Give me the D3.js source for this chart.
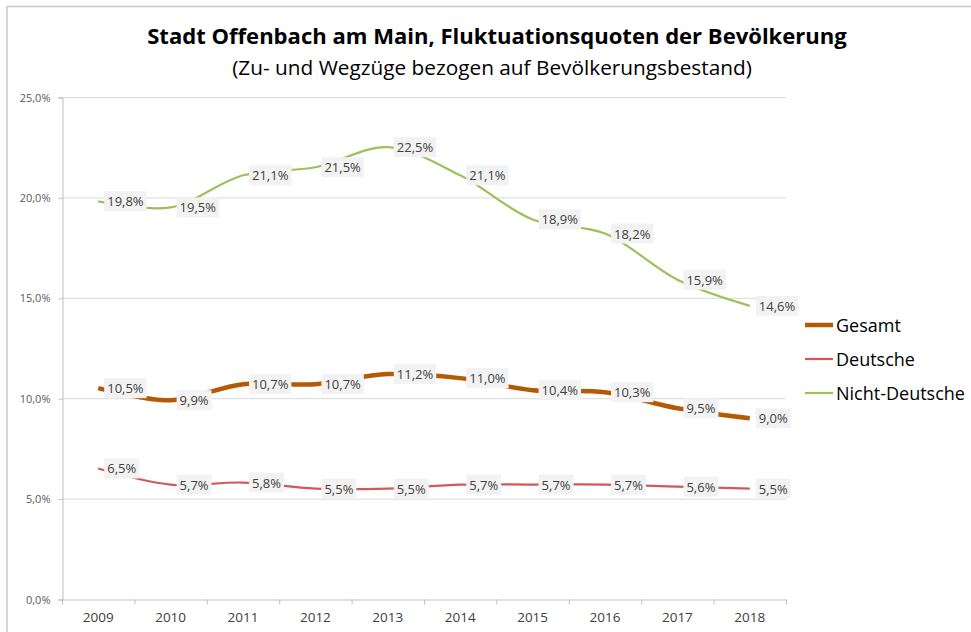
<!DOCTYPE html>
<html>
<head>
<meta charset="utf-8">
<script src="https://d3js.org/d3.v7.min.js"></script>
<style>
  body { margin: 0; background: #fff; }
  svg { display: block; font-family: "Open Sans", "Noto Sans", sans-serif; }
</style>
</head>
<body>
<div id="chart"></div>
<script>
// data
var years = ["2009", "2010", "2011", "2012", "2013", "2014", "2015", "2016", "2017", "2018"];
var gesamt = [10.5, 9.9, 10.7, 10.7, 11.2, 11.0, 10.4, 10.3, 9.5, 9.0];
var deutsche = [6.5, 5.7, 5.8, 5.5, 5.5, 5.7, 5.7, 5.7, 5.6, 5.5];
var nichtDeutsche = [19.8, 19.5, 21.1, 21.5, 22.5, 21.1, 18.9, 18.2, 15.9, 14.6];
var yTicks = [0, 5, 10, 15, 20, 25];

var series = [
  {name: "Gesamt", values: gesamt, color: "#b35a06", width: 4.5},
  {name: "Deutsche", values: deutsche, color: "#d2585a", width: 2.2},
  {name: "Nicht-Deutsche", values: nichtDeutsche, color: "#9cc15a", width: 2.2}
];

var W = 971, H = 632;
// plot area (window.top is read-only, so no bare "top")
var plotL = 62, plotR = 786, plotT = 97, plotB = 599;

var de = d3.formatLocale({decimal: ",", thousands: ".", grouping: [3], currency: ["", " €"]});
var fmt = de.format(".1f");

var svg = d3.select("#chart").append("svg")
    .attr("width", W)
    .attr("height", H);

// outer frame (only top and left visible)
svg.append("line").attr("x1", 7).attr("x2", W).attr("y1", 6.5).attr("y2", 6.5)
    .attr("stroke", "#c8c8c8").attr("stroke-width", 1.5);
svg.append("line").attr("x1", 7).attr("x2", 7).attr("y1", 6).attr("y2", H)
    .attr("stroke", "#c8c8c8").attr("stroke-width", 1.5);

// fit text to a width
function fit(sel, w) {
  var fs = parseFloat(sel.style("font-size"));
  var len = sel.node().getComputedTextLength();
  sel.style("font-size", (fs * w / len) + "px");
}

var title = svg.append("text")
    .attr("x", 497).attr("y", 44)
    .attr("text-anchor", "middle")
    .style("font-size", "20px")
    .style("font-weight", "bold")
    .attr("fill", "#000")
    .text("Stadt Offenbach am Main, Fluktuationsquoten der Bevölkerung");
fit(title, 700);

var sub = svg.append("text")
    .attr("x", 492).attr("y", 75)
    .attr("text-anchor", "middle")
    .style("font-size", "17px")
    .attr("fill", "#000")
    .text("(Zu- und Wegzüge bezogen auf Bevölkerungsbestand)");
fit(sub, 520);

var x = d3.scaleBand().domain(years).range([plotL, plotR]);
var y = d3.scaleLinear().domain([0, 25]).range([plotB, plotT]);

// grid
svg.append("g").selectAll("line")
    .data(yTicks.filter(function(d) { return d > 0; }))
    .enter().append("line")
    .attr("x1", plotL).attr("x2", plotR)
    .attr("y1", function(d) { return y(d) + 0.5; })
    .attr("y2", function(d) { return y(d) + 0.5; })
    .attr("stroke", "#d9d9d9");

// y axis
var yAxis = svg.append("g")
    .attr("transform", "translate(" + (plotL + 0.5) + ",0.5)")
    .call(d3.axisLeft(y).tickValues(yTicks).tickSize(4).tickPadding(8)
      .tickFormat(function(d) { return fmt(d) + "%"; }));
yAxis.select(".domain").attr("stroke", "#bfbfbf");
yAxis.selectAll(".tick line").attr("stroke", "#bfbfbf");
yAxis.selectAll("text").attr("fill", "#595959")
    .style("font-size", "11px").style("font-family", "'Open Sans', sans-serif");

// x axis
var xAxis = svg.append("g")
    .attr("transform", "translate(0," + (plotB + 0.5) + ")")
    .call(d3.axisBottom(x).tickSize(0).tickPadding(13));
xAxis.select(".domain").attr("stroke", "#bfbfbf");
xAxis.selectAll("text").attr("fill", "#404040")
    .style("font-size", "13.5px").style("font-family", "'Open Sans', sans-serif");
xAxis.selectAll(".bnd")
    .data(d3.range(years.length + 1))
    .enter().append("line")
    .attr("class", "bnd")
    .attr("x1", function(i) { return plotL + i * x.step() + 0.5; })
    .attr("x2", function(i) { return plotL + i * x.step() + 0.5; })
    .attr("y1", 0).attr("y2", 5)
    .attr("stroke", "#bfbfbf");

var line = d3.line()
    .x(function(d, i) { return x(years[i]) + x.bandwidth() / 2; })
    .y(function(d) { return y(d); })
    .curve(d3.curveCatmullRom.alpha(0.5));

series.forEach(function(s) {
  svg.append("path")
      .datum(s.values)
      .attr("fill", "none")
      .attr("stroke", s.color)
      .attr("stroke-width", s.width)
      .attr("d", line);
});

// data labels
series.forEach(function(s) {
  var g = svg.append("g");
  s.values.forEach(function(v, i) {
    var px = x(years[i]) + x.bandwidth() / 2;
    var py = y(v);
    var lg = g.append("g").attr("transform", "translate(" + (px + 6) + "," + py + ")");
    var r = lg.append("rect").attr("fill", "#f2f2f2");
    var t = lg.append("text")
        .attr("x", 3).attr("y", 5)
        .style("font-size", "13px")
        .attr("fill", "#404040")
        .text(fmt(v) + "%");
    var w = t.node().getComputedTextLength();
    r.attr("x", 0).attr("y", -10).attr("width", w + 6).attr("height", 20);
  });
});

// legend
var leg = svg.append("g");
series.forEach(function(s, i) {
  var ly = 325 + i * 34;
  leg.append("line")
      .attr("x1", 805).attr("x2", 833)
      .attr("y1", ly).attr("y2", ly)
      .attr("stroke", s.color)
      .attr("stroke-width", s.width);
  leg.append("text")
      .attr("x", 836).attr("y", ly + 6.5)
      .style("font-size", "18px")
      .attr("fill", "#000")
      .text(s.name);
});
</script>
</body>
</html>
